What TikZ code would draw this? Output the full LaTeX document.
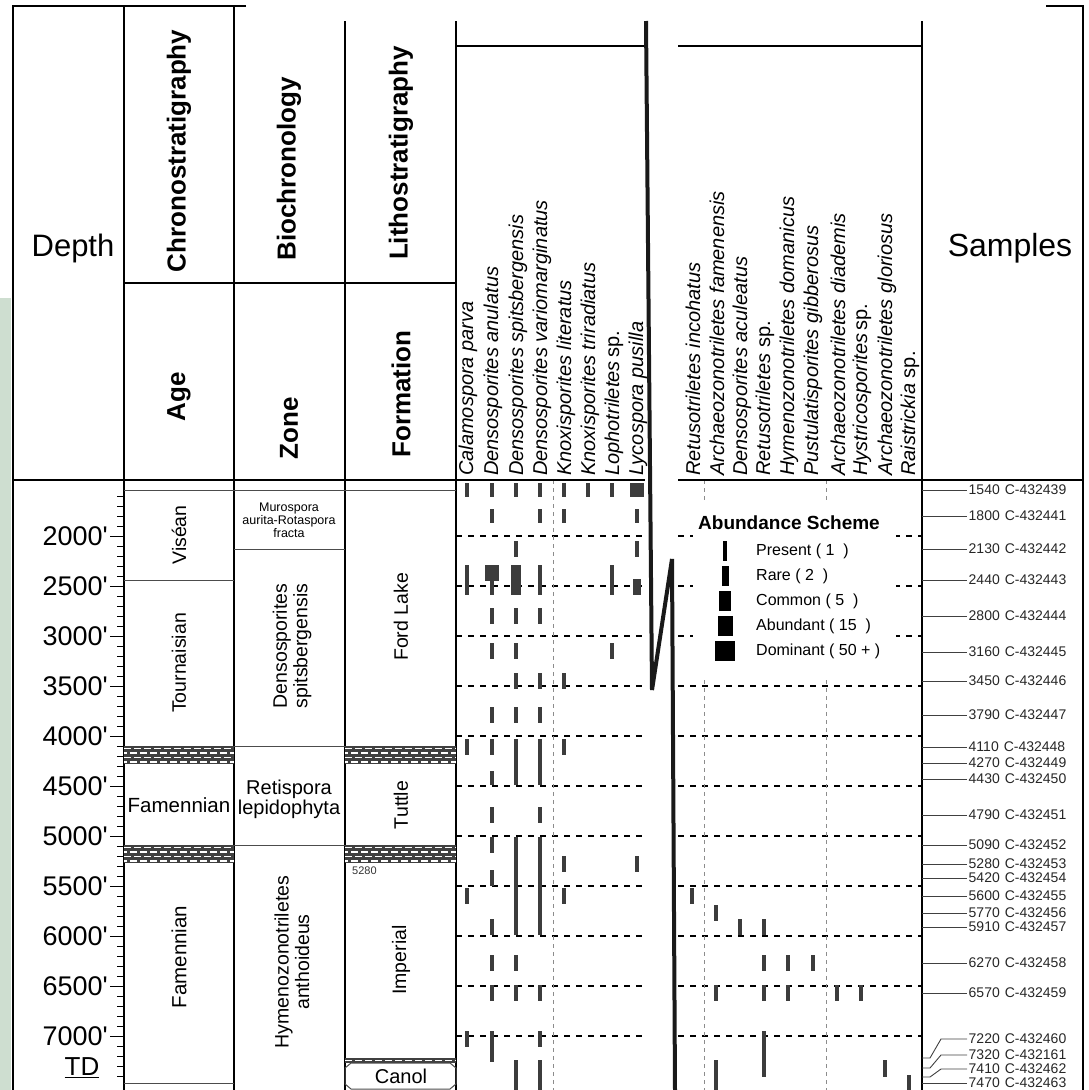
\documentclass[tikz,border=0pt]{standalone}
\usepackage{fontspec}
\setmainfont{Liberation Sans}
\usetikzlibrary{positioning}
\definecolor{stripgreen}{RGB}{206,222,208}
\definecolor{sporegray}{RGB}{60,60,60}
\newcommand{\fsz}[2]{\fontsize{#1}{#2}\selectfont}
% shale band: x1, x2, top
\newcommand{\hatchband}[3]{%
	\fill[black!75] (#1,#3) rectangle (#2,#3+18);
	\foreach \k/\ph in {2.5/0,7/4,11.5/0,16/4}
		\draw[white,line width=1.5pt,dash pattern=on 7pt off 3pt,dash phase=\ph pt] (#1,#3+\k) -- (#2,#3+\k);
}
\begin{document}
\begin{tikzpicture}[x=1pt,y=-1pt,
	frame/.style={line width=2.6pt},
	rule/.style={line width=1.3pt},
	bound/.style={line width=1pt,black!70},
	hdash/.style={line width=1.4pt,dash pattern=on 6pt off 6pt},
	vdash/.style={line width=0.8pt,black!45,dash pattern=on 4pt off 4pt},
	spore/.style={fill=sporegray},
	head/.style={font=\fsz{26}{28}\bfseries,rotate=90,inner sep=0},
	unit/.style={font=\fsz{19.5}{20.5},rotate=90,inner sep=0,align=center},
	taxon/.style={font=\fsz{20}{20}\itshape,rotate=90,anchor=west,inner sep=0},
	sample/.style={font=\fsz{14}{14},anchor=west,inner sep=1.5pt,text=black!85},
	sampline/.style={line width=0.9pt,black!75},
	depthlbl/.style={font=\fsz{27}{27},anchor=east,inner sep=0},
	key/.style={font=\fsz{16}{16},anchor=west,inner sep=0}]
	\useasboundingbox (0,0) rectangle (1089,1090);
	\fill[stripgreen] (0,298) rectangle (11,1090);

	% grid of the range chart
	\foreach \dep in {2000,2500,...,7000} {
		\draw[hdash] (456,336+\dep/10) -- (645,336+\dep/10);
		\draw[hdash] (678,336+\dep/10) -- (922,336+\dep/10);
	}
	\foreach \x in {553,704,826}
		\draw[vdash] (\x,480) -- (\x,1090);

	% occurrences
	\foreach \x/\ya/\yb in {
		467/483/497, 492/483/497, 516/483/497, 540/483/497, 564/483/497, 588/483/497, 612/483/497,
		492/509/523, 540/509/523, 564/509/523, 637/509/523,
		516/541/557, 637/541/557,
		467/565/595, 492/581/595, 540/565/595, 612/565/595,
		492/608/624, 516/608/624, 540/608/624,
		492/643/659, 516/643/659, 612/643/659,
		516/673/689, 540/673/689, 564/673/689,
		492/707/723, 516/707/723, 540/707/723,
		467/739/755, 492/739/755, 564/739/755, 516/739/785, 540/739/785, 492/771/785,
		492/807/823, 540/807/823,
		492/837/853, 516/837/935, 540/837/935, 564/856/872, 637/856/872, 492/870/886,
		467/888/904, 564/888/904, 692/888/904, 716/905/921, 492/919/935, 740/919/935, 764/919/935,
		492/955/971, 516/955/971, 764/955/971, 788/955/971, 813/955/971,
		492/985/1001, 516/985/1001, 540/985/1001, 716/985/1001, 764/985/1001, 788/985/1001, 837/985/1001, 861/985/1001,
		467/1031/1047, 540/1031/1047, 492/1031/1062, 764/1031/1077,
		516/1060/1090, 540/1060/1090, 716/1060/1090, 885/1060/1077, 909/1075/1090}
		\fill[spore] (\x-2,\ya) rectangle (\x+2,\yb);
	\foreach \xa/\ya/\xb/\yb in {630/483/644/497, 485/565/499/581, 511/565/521/595, 633/579/641/595}
		\fill[spore] (\xa,\ya) rectangle (\xb,\yb);

	% columns
	\draw[rule] (124,6) -- (124,1090);
	\draw[rule] (234,6) -- (234,1090);
	\draw[rule] (345,21) -- (345,1090);
	\draw[rule] (456,21) -- (456,1090);
	\draw[rule] (922,21) -- (922,1090);
	\draw[rule] (124,283) -- (456,283);
	\draw[rule] (456,46) -- (645,46);
	\draw[rule] (678,46) -- (922,46);
	\draw[frame] (13,480) -- (645,480);
	\draw[frame] (678,480) -- (1083,480);
	\draw[bound] (124,490) -- (456,490);
	\draw[bound] (124,580) -- (234,580);
	\draw[bound] (234,549) -- (345,549);
	\draw[bound] (124,746) -- (456,746);
	\draw[bound] (124,845) -- (456,845);
	\draw[bound] (124,1083) -- (234,1083);
	\foreach \y in {746,845} {
		\hatchband{124}{234}{\y}
		\hatchband{345}{456}{\y}
	}
	\fill[black!75] (345,1058) rectangle (456,1063);
	\draw[white,line width=1.2pt,dash pattern=on 7pt off 3pt] (345,1060.5) -- (456,1060.5);
	\draw[bound] (351,1063) -- (450,1063) -- (456,1068) -- (456,1084) -- (450,1089) -- (351,1089) -- (345,1084) -- (345,1068) -- cycle;

	% depth scale
	\foreach \n in {16,...,74}
		\draw[line width=0.9pt] (117,336+10*\n) -- (124,336+10*\n);
	\foreach \dep in {2000,2500,...,7000} {
		\draw[line width=1pt] (110,336+\dep/10) -- (124,336+\dep/10);
		\node[depthlbl] (dl\dep) at (108,336+\dep/10) {\dep\textquotesingle};
	}
	\node[font=\fsz{26}{26},inner sep=0] (td) at (82,1068) {\underline{TD}};

	% headers
	\node[font=\fsz{31}{31}] (depth) at (73,248) {Depth};
	\node[font=\fsz{32}{32}] (samples) at (1010,248) {Samples};
	\node[head] (chrono) at (179,151) {Chronostratigraphy};
	\node[head] (bio) at (289,169) {Biochronology};
	\node[head] (litho) at (401,153) {Lithostratigraphy};
	\node[head] (age) at (179,397) {Age};
	\node[head] (zone) at (289,428) {Zone};
	\node[head] (formation) at (401,394) {Formation};

	% units
	\node[unit] (visean) at (179,535) {Viséan};
	\node[unit] (tournaisian) at (179,663) {Tournaisian};
	\node[font=\fsz{20.5}{20.5},inner sep=0] (famenA) at (179,805) {Famennian};
	\node[unit,font=\fsz{20.5}{20.5}] (famenB) at (179,957) {Famennian};
	\node[font=\fsz{12.5}{13},align=center,inner sep=0] (muro) at (289,520) {Murospora\\aurita-Rotaspora\\fracta};
	\node[unit] (denso) at (292,646) {Densosporites\\spitsbergensis};
	\node[font=\fsz{20}{20},align=center,inner sep=0] (retis) at (289,799) {Retispora\\lepidophyta};
	\node[unit] (hymeno) at (292,962) {Hymenozonotriletes\\anthoideus};
	\node[unit] (fordlake) at (401,617) {Ford Lake};
	\node[unit] (tuttle) at (401,805) {Tuttle};
	\node[unit] (imperial) at (401,960) {Imperial};
	\node[font=\fsz{11}{11},anchor=west,inner sep=0,text=black!80] (top5280) at (352,871) {5280};
	\node[font=\fsz{20}{20},inner sep=0] (canol) at (401,1076) {Canol};

	% taxa
	\foreach \x/\tx [count=\i] in {468/{Calamospora parva}, 493/{Densosporites anulatus},
		518/{Densosporites spitsbergensis}, 542/{Densosporites variomarginatus},
		566/{Knoxisporites literatus}, 590/{Knoxisporites triradiatus},
		614/{Lophotriletes\,{\upshape sp.}}, 638/{Lycospora pusilla}}
		\node[taxon] (taxa\i) at (\x,476) {\tx};
	\foreach \x/\tx [count=\i] in {693/{Retusotriletes incohatus}, 717/{Archaeozonotriletes famenensis},
		742/{Densosporites aculeatus}, 765/{Retusotriletes {\upshape sp.}},
		789/{Hymenozonotriletes domanicus}, 813/{Pustulatisporites gibberosus},
		838/{Archaeozonotriletes diademis}, 862/{Hystricosporites\,{\upshape sp.}},
		887/{Archaeozonotriletes gloriosus}, 910/{Raistrickia {\upshape sp.}}}
		\node[taxon] (taxb\i) at (\x,476) {\tx};

	% samples
	\foreach \dep/\cn in {1540/439, 1800/441, 2130/442, 2440/443, 2800/444, 3160/445, 3450/446,
		3790/447, 4110/448, 4270/449, 4430/450, 4790/451, 5090/452, 5280/453, 5420/454,
		5600/455, 5770/456, 5910/457, 6270/458, 6570/459, 7470/463} {
		\node[sample] (s\dep) at (967,336+\dep/10) {\dep\hspace{5pt}C-432\cn};
		\draw[sampline] (922,336+\dep/10) -- (s\dep.west);
	}
	\foreach \dep/\cn/\ly in {7220/460/1039, 7320/161/1055, 7410/462/1069} {
		\node[sample] (s\dep) at (967,\ly) {\dep\hspace{5pt}C-432\cn};
		\draw[sampline] (922,336+\dep/10) -- ++(8,0) -- (941,\ly) -- (s\dep.west);
	}

	% abundance scheme
	\fill[white] (693,503) rectangle (896,676);
	\node[font=\fsz{19}{19}\bfseries,inner sep=0] (scheme) at (789,523) {Abundance Scheme};
	\foreach \w/\ya/\tx [count=\i] in {4/541/{Present ( 1\ \ )}, 7/566/{Rare ( 2\ \ )},
		12/591/{Common ( 5\ \ )}, 15/616/{Abundant ( 15\ \ )}, 20/641/{Dominant ( 50 + )}} {
		\fill (725-\w/2,\ya) rectangle (725+\w/2,\ya+20);
		\node[key] (key\i) at (756,\ya+10) {\tx};
	}

	% break
	\draw[line width=4pt,black!90] (646,21) -- (652,690) -- (672,559) -- (675,1090);

	% frame
	\draw[frame] (246,6) -- (13,6) -- (13,1090);
	\draw[frame] (1046,6) -- (1083,6) -- (1083,1090);
\end{tikzpicture}
\end{document}
